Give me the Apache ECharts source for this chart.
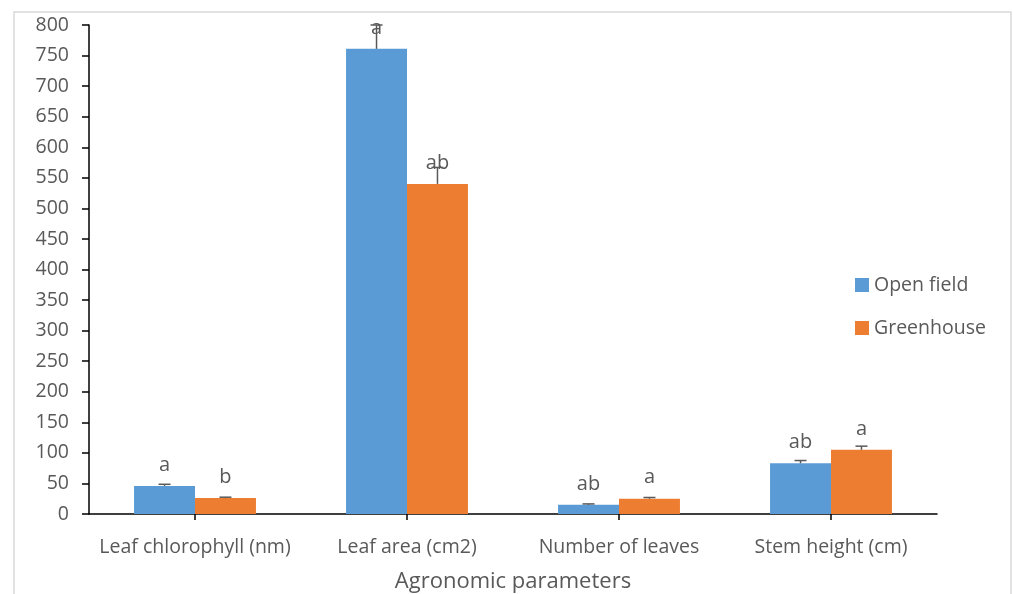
<!DOCTYPE html>
<html>
<head>
<meta charset="utf-8">
<script src="https://cdn.jsdelivr.net/npm/echarts@6/dist/echarts.min.js"></script>
<style>
html,body{margin:0;padding:0;background:#fff;}
#chart{width:1013px;height:594px;}
</style>
</head>
<body>
<div id="chart"></div>
<script>
const categories = ['Leaf chlorophyll (nm)', 'Leaf area (cm2)', 'Number of leaves', 'Stem height (cm)'];
const seriesNames = ['Open field', 'Greenhouse'];
const openField = [46, 761, 15, 83];
const greenhouse = [26, 540, 25, 105];
const openFieldErr = [2.6, 39, 1.5, 4.5];
const greenhouseErr = [1.5, 27, 2, 6];
const openFieldLetters = ['a', 'a', 'ab', 'ab'];
const greenhouseLetters = ['b', 'ab', 'a', 'a'];
const yMin = 0, yMax = 800, yStep = 50;
const xAxisTitle = 'Agronomic parameters';

const FONT = 'Open Sans';
const TXT = '#595959';
const colors = ['#5B9BD5', '#ED7D31'];
const catGap = 0.425;

function errSeries(values, errs, side) {
  return {
    type: 'custom',
    z: 5,
    silent: true,
    data: values.map((v, i) => [i, v, v + errs[i]]),
    renderItem: function (params, api) {
      const i = api.value(0);
      const c0 = api.coord([i, api.value(1)]);
      const c1 = api.coord([i, api.value(2)]);
      const bw = api.size([1, 0])[0] * (1 - catGap) / 2;
      const x = c0[0] + side * bw / 2;
      const cap = 6;
      return {
        type: 'group',
        children: [
          { type: 'line', shape: { x1: x, y1: c0[1], x2: x, y2: c1[1] }, style: { stroke: '#595959', lineWidth: 1.5 } },
          { type: 'line', shape: { x1: x - cap, y1: c1[1], x2: x + cap, y2: c1[1] }, style: { stroke: '#595959', lineWidth: 1.5 } }
        ]
      };
    }
  };
}

function barSeries(name, values, errs, letters, color) {
  return {
    name: name,
    type: 'bar',
    barGap: '0%',
    barCategoryGap: (catGap * 100) + '%',
    itemStyle: { color: color },
    data: values,
    label: {
      show: true,
      position: 'top',
      distance: 11,
      color: TXT,
      fontFamily: FONT,
      fontSize: 20,
      formatter: p => letters[p.dataIndex]
    }
  };
}

const chart = echarts.init(document.getElementById('chart'), null, { renderer: 'canvas' });
chart.setOption({
  animation: false,
  backgroundColor: '#fff',
  graphic: [{
    type: 'rect',
    shape: { x: 14, y: 12, width: 997, height: 600 },
    style: { fill: 'none', stroke: '#d9d9d9', lineWidth: 1.5 },
    silent: true, z: -1
  }],
  grid: { left: 89, right: 76, top: 25, bottom: 80, containLabel: false, outerBoundsMode: 'none' },
  legend: {
    orient: 'vertical',
    left: 850,
    top: 270,
    itemWidth: 14,
    itemHeight: 14,
    itemGap: 23,
    icon: 'rect',
    textStyle: { color: TXT, fontFamily: FONT, fontSize: 19.5 },
    data: seriesNames
  },
  xAxis: {
    type: 'category',
    data: categories,
    name: xAxisTitle,
    nameLocation: 'middle',
    nameGap: 57,
    nameTextStyle: { color: TXT, fontFamily: FONT, fontSize: 22 },
    axisLine: { lineStyle: { color: '#000', width: 1.5 } },
    axisTick: { show: true, alignWithLabel: true, length: 6, lineStyle: { color: '#000', width: 1.5 } },
    axisLabel: { interval: 0, color: TXT, fontFamily: FONT, fontSize: 19.5, margin: 23 }
  },
  yAxis: {
    type: 'value',
    min: yMin, max: yMax, interval: yStep,
    splitLine: { show: false },
    axisLine: { show: true, lineStyle: { color: '#000', width: 1.5 } },
    axisTick: { show: true, length: 7, lineStyle: { color: '#000', width: 1.5 } },
    axisLabel: { color: TXT, fontFamily: FONT, fontSize: 19.5, margin: 20 }
  },
  series: [
    barSeries(seriesNames[0], openField, openFieldErr, openFieldLetters, colors[0]),
    barSeries(seriesNames[1], greenhouse, greenhouseErr, greenhouseLetters, colors[1]),
    errSeries(openField, openFieldErr, -1),
    errSeries(greenhouse, greenhouseErr, 1)
  ]
});
</script>
</body>
</html>
